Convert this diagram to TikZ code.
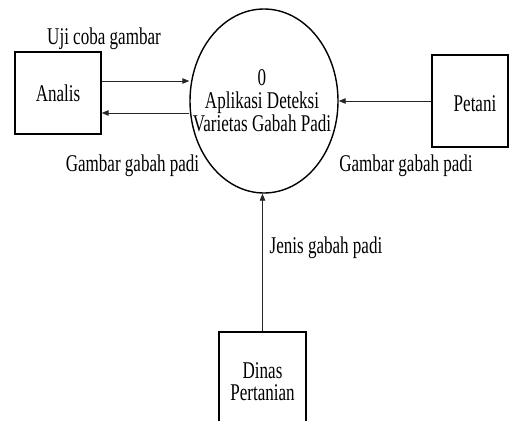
\documentclass[tikz,border=0pt]{standalone}
\usepackage{fontspec}
\setmainfont{Liberation Serif}[FakeStretch=0.71]
\usetikzlibrary{arrows.meta,shapes.geometric}
\begin{document}
\begin{tikzpicture}[x=1pt,y=-1pt,
  lbl/.style={font=\fontsize{24}{23}\selectfont, inner sep=0pt, anchor=base},
  entity/.style={draw, line width=1.3pt, inner sep=0pt},
  flow/.style={draw=black!85, line width=0.9pt, -{Triangle[length=7pt,width=5.5pt]}}]
\useasboundingbox (0,0) rectangle (510,420);
% entities
\node[entity, minimum width=86pt, minimum height=82pt] (ana) at (58,93) {};
\node[entity, minimum width=76pt, minimum height=92pt] (pet) at (470,101) {};
\node[entity, minimum width=87pt, minimum height=90pt] (din) at (262.5,377) {};
% process
\node[draw, ellipse, line width=1.4pt, minimum width=148pt, minimum height=184pt, inner sep=0pt] (proc) at (264,101) {};
% texts in shapes
\node[lbl] (anat) at (58,101) {Analis};
\node[lbl] (pett) at (475,111) {Petani};
\node[lbl, align=center, font=\fontsize{24}{22}\selectfont] (dint) at (262.5,400) {Dinas\\Pertanian};
\node[lbl, align=center] (pt) at (262,131) {0\\Aplikasi Deteksi\\Varietas Gabah Padi};
% flows
\draw[flow] ([yshift=12pt]ana.east) -- ([yshift=12pt]ana.east -| proc.west);
\draw[flow] ([yshift=-20pt]ana.east -| proc.west) -- ([yshift=-20pt]ana.east);
\draw[flow] (pet.west) -- (pet.west -| proc.east);
\draw[flow] (din.north) -- (din.north |- proc.south);
% flow labels
\node[lbl] (l1) at (104,45) {Uji coba gambar};
\node[lbl] (l2) at (132.5,171) {Gambar gabah padi};
\node[lbl] (l3) at (406,171) {Gambar gabah padi};
\node[lbl] (l4) at (326,253) {Jenis gabah padi};
\end{tikzpicture}
\end{document}
